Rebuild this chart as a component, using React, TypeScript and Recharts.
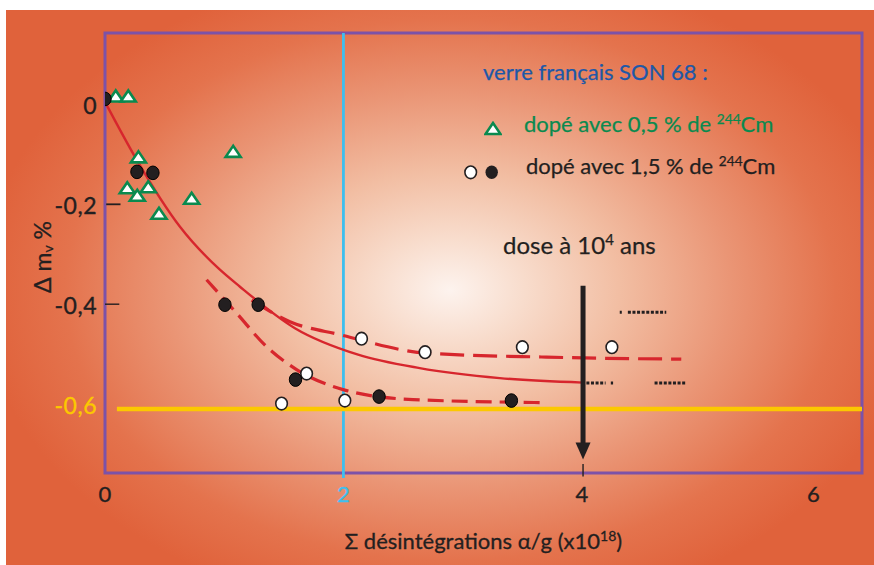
import {
  ComposedChart,
  Legend,
  Line,
  ReferenceArea,
  ReferenceLine,
  Scatter,
  XAxis,
  YAxis,
} from "recharts";

const FONT = "Lato, 'Open Sans', sans-serif";
const INK = "#231f20";
const RED = "#d7262d";
const GREEN = "#0a8a4f";
const BLUE_TXT = "#1d58a8";
const CYAN = "#3dbfee";
const YELLOW = "#fcc800";
const PURPLE = "#7c52a8";

const X_DOMAIN = [0, 6.35];
const Y_DOMAIN = [-0.738, 0.143];
const X_TICKS = [0, 2, 4, 6];
const Y_TICKS = [0, -0.2, -0.4, -0.6];
const LIMIT = -0.61;
const DOSE_1E4 = 4.01;

// glass doped with 0.5 % 244Cm (triangles)
const cm05 = [
  { x: 0.09, y: 0.014 },
  { x: 0.195, y: 0.014 },
  { x: 0.28, y: -0.108 },
  { x: 1.075, y: -0.097 },
  { x: 0.187, y: -0.17 },
  { x: 0.363, y: -0.168 },
  { x: 0.271, y: -0.185 },
  { x: 0.727, y: -0.191 },
  { x: 0.453, y: -0.221 },
];

// glass doped with 1.5 % 244Cm, black and white symbols
const cm15Black = [
  { x: 0.0, y: 0.011 },
  { x: 0.268, y: -0.135 },
  { x: 0.402, y: -0.137 },
  { x: 1.006, y: -0.401 },
  { x: 1.285, y: -0.401 },
  { x: 1.598, y: -0.551 },
  { x: 2.299, y: -0.585 },
  { x: 3.409, y: -0.593 },
];

const cm15White = [
  { x: 1.481, y: -0.599 },
  { x: 1.691, y: -0.539 },
  { x: 2.012, y: -0.593 },
  { x: 2.152, y: -0.469 },
  { x: 2.685, y: -0.496 },
  { x: 3.501, y: -0.486 },
  { x: 4.252, y: -0.486 },
];

// hand-drawn trend curves
const fitAll = [
  { x: 0, y: 0.005 },
  { x: 0.266, y: -0.111 },
  { x: 0.629, y: -0.245 },
  { x: 0.95, y: -0.328 },
  { x: 1.132, y: -0.365 },
  { x: 1.593, y: -0.448 },
  { x: 2.123, y: -0.501 },
  { x: 2.64, y: -0.528 },
  { x: 3.311, y: -0.548 },
  { x: 4.009, y: -0.557 },
];

const fitWhite = [
  { x: 1.23, y: -0.392 },
  { x: 1.551, y: -0.435 },
  { x: 1.97, y: -0.461 },
  { x: 2.697, y: -0.498 },
  { x: 3.702, y: -0.506 },
  { x: 4.4, y: -0.509 },
  { x: 4.834, y: -0.51 },
];

const fitBlack = [
  { x: 0.852, y: -0.351 },
  { x: 1.104, y: -0.418 },
  { x: 1.355, y: -0.485 },
  { x: 1.607, y: -0.531 },
  { x: 1.997, y: -0.571 },
  { x: 2.584, y: -0.591 },
  { x: 3.674, y: -0.597 },
];

// dotted extrapolations past 10^4 years
const extUpper = [
  { x: 4.318, y: -0.416 },
  { x: 4.335, y: -0.416 },
  { x: 4.36, y: null },
  { x: 4.386, y: -0.416 },
  { x: 4.708, y: -0.416 },
];

const extLower = [
  { x: 4.038, y: -0.558 },
  { x: 4.199, y: -0.558 },
  { x: 4.22, y: null },
  { x: 4.243, y: -0.558 },
  { x: 4.262, y: -0.558 },
  { x: 4.4, y: null },
  { x: 4.61, y: -0.558 },
  { x: 4.87, y: -0.558 },
];

const arrowTip = [{ x: DOSE_1E4, y: -0.711 }];

const fmt = (v: number) => String(v).replace(".", ",");

function Triangle(p: any) {
  const { cx, cy } = p;
  return (
    <polygon
      points={`${cx},${cy - 7} ${cx - 7.5},${cy + 4} ${cx + 7.5},${cy + 4}`}
      fill="#fff"
      stroke={GREEN}
      strokeWidth={2.6}
    />
  );
}

function BlackDot(p: any) {
  return <ellipse cx={p.cx} cy={p.cy} rx={6.2} ry={6.8} fill={INK} stroke="#000" strokeWidth={1} />;
}

function WhiteDot(p: any) {
  return <ellipse cx={p.cx} cy={p.cy} rx={5.8} ry={6.3} fill="#fff" stroke={INK} strokeWidth={1.6} />;
}

function ArrowHead(p: any) {
  const { cx, cy } = p;
  return <polygon points={`${cx - 7.5},${cy - 17} ${cx + 7.5},${cy - 17} ${cx},${cy}`} fill={INK} />;
}

function XTick(p: any) {
  const v = p.payload.value;
  const c = v === 2 ? CYAN : INK;
  return (
    <text
      x={p.x}
      y={p.y}
      dx={v === 6 ? -7 : 0}
      dy={21}
      textAnchor="middle"
      fontFamily={FONT}
      fontSize={22}
      fill={c}
      stroke={c}
      strokeWidth={0.35}
    >
      {fmt(v)}
    </text>
  );
}

function YTick(p: any) {
  const v = p.payload.value;
  const c = v === -0.6 ? YELLOW : INK;
  return (
    <text
      x={p.x}
      y={p.y}
      dy={10}
      textAnchor="end"
      fontFamily={FONT}
      fontSize={23}
      letterSpacing={0.5}
      fill={c}
      stroke={c}
      strokeWidth={0.35}
    >
      {fmt(v)}
    </text>
  );
}

const sup = { fontSize: "0.62em", position: "relative" as const, top: "-0.6em" };

function LegendBox() {
  const row = {
    position: "absolute" as const,
    whiteSpace: "nowrap" as const,
    lineHeight: 1,
    fontFamily: FONT,
    WebkitTextStroke: "0.25px currentColor",
  };
  return (
    <div style={{ position: "relative", width: 874, height: 565 }}>
      <div style={{ ...row, left: 483, top: 61, fontSize: 22, color: BLUE_TXT }}>
        verre français SON 68 :
      </div>
      <svg style={{ position: "absolute", left: 484, top: 121 }} width={18} height={16}>
        <polygon points="9,2 1.5,13 16.5,13" fill="#fff" stroke={GREEN} strokeWidth={2.6} />
      </svg>
      <div style={{ ...row, left: 524, top: 113, fontSize: 22, color: GREEN }}>
        dopé avec 0,5 % de <span style={sup}>244</span>Cm
      </div>
      <svg style={{ position: "absolute", left: 462, top: 164 }} width={40} height={17}>
        <ellipse cx={8.7} cy={8.3} rx={5.8} ry={6.3} fill="#fff" stroke={INK} strokeWidth={1.6} />
        <ellipse cx={29.7} cy={8.3} rx={6.2} ry={6.8} fill={INK} />
      </svg>
      <div style={{ ...row, left: 526, top: 155, fontSize: 22, color: INK }}>
        dopé avec 1,5 % de <span style={sup}>244</span>Cm
      </div>
      <div style={{ ...row, left: 503, top: 233, fontSize: 24, color: INK }}>
        dose à 10<span style={sup}>4</span> ans
      </div>
    </div>
  );
}

export default function App() {
  return (
    <div style={{ position: "absolute", left: 0, top: 0, width: 874, height: 565, background: "#fff" }}>
      <div
        style={{
          position: "absolute",
          left: 6,
          top: 10,
          right: 0,
          bottom: 0,
          background:
            "radial-gradient(ellipse 470px 330px at 444px 280px, #fdf3ee 0%, #f8dccc 16%, #f2bea3 36%, #ea9575 60%, #e4734d 82%, #e0623b 100%)",
        }}
      />
      <div style={{ position: "absolute", left: 0, top: 0 }}>
        <ComposedChart
          width={874}
          height={565}
          margin={{ top: 33, right: 12, bottom: 32, left: 25 }}
        >
          <XAxis
            type="number"
            dataKey="x"
            domain={X_DOMAIN}
            ticks={X_TICKS}
            allowDataOverflow
            axisLine={false}
            tickLine={false}
            height={60}
            tick={<XTick />}
            label={{
              content: (props: any) => {
                const vb = props.viewBox;
                return (
                  <text
                    x={vb.x + vb.width / 2}
                    y={vb.y + 76}
                    textAnchor="middle"
                    fontFamily={FONT}
                    fontSize={22}
                    fill={INK}
                    stroke={INK}
                    strokeWidth={0.3}
                  >
                    Σ désintégrations α/g (x10
                    <tspan fontSize={14} dy={-8}>18</tspan>
                    <tspan dy={8}>)</tspan>
                  </text>
                );
              },
            }}
          />
          <YAxis
            type="number"
            dataKey="y"
            domain={Y_DOMAIN}
            ticks={Y_TICKS}
            allowDataOverflow
            axisLine={false}
            tickLine={false}
            tickSize={8}
            tickMargin={0}
            width={80}
            tick={<YTick />}
            label={{
              content: (props: any) => {
                const vb = props.viewBox;
                const cx = vb.x + 17;
                const cy = vb.y + vb.height / 2 + 4;
                return (
                  <text
                    x={cx}
                    y={cy}
                    transform={`rotate(-90 ${cx} ${cy})`}
                    textAnchor="middle"
                    dominantBaseline="central"
                    fontFamily={FONT}
                    fontSize={23}
                    fill={INK}
                    stroke={INK}
                    strokeWidth={0.3}
                  >
                    Δ m
                    <tspan fontSize={14} dy={5}>v</tspan>
                    <tspan dy={-5}> %</tspan>
                  </text>
                );
              },
            }}
          />

          <ReferenceLine
            segment={[{ x: 2, y: Y_DOMAIN[1] }, { x: 2, y: -0.748 }]}
            stroke={CYAN}
            strokeWidth={2.8}
            ifOverflow="visible"
          />
          <ReferenceLine
            segment={[{ x: 0.1, y: LIMIT }, { x: X_DOMAIN[1], y: LIMIT }]}
            stroke={YELLOW}
            strokeWidth={4.5}
          />
          <ReferenceLine segment={[{ x: 0.01, y: -0.2 }, { x: 0.13, y: -0.2 }]} stroke={INK} strokeWidth={1.8} />
          <ReferenceLine segment={[{ x: 0, y: -0.4 }, { x: 0.12, y: -0.4 }]} stroke={INK} strokeWidth={1.4} />
          <ReferenceLine
            segment={[{ x: DOSE_1E4, y: -0.72 }, { x: DOSE_1E4, y: -0.745 }]}
            stroke={INK}
            strokeWidth={1.4}
            ifOverflow="visible"
          />

          <Line data={fitAll} dataKey="y" type="monotone" stroke={RED} strokeWidth={2.4} dot={false} activeDot={false} isAnimationActive={false} />
          <Line data={fitWhite} dataKey="y" type="monotone" stroke={RED} strokeWidth={3.2} strokeDasharray="24 9" dot={false} activeDot={false} isAnimationActive={false} />
          <Line data={fitBlack} dataKey="y" type="monotone" stroke={RED} strokeWidth={3.2} strokeDasharray="16 8" dot={false} activeDot={false} isAnimationActive={false} />
          <Line data={extUpper} dataKey="y" stroke={INK} strokeWidth={3} strokeDasharray="3 1.6" dot={false} activeDot={false} isAnimationActive={false} />
          <Line data={extLower} dataKey="y" stroke={INK} strokeWidth={3} strokeDasharray="3 1.6" dot={false} activeDot={false} isAnimationActive={false} />

          <ReferenceLine
            segment={[{ x: DOSE_1E4, y: -0.363 }, { x: DOSE_1E4, y: -0.682 }]}
            stroke={INK}
            strokeWidth={5}
          />
          <Scatter data={arrowTip} dataKey="y" shape={<ArrowHead />} isAnimationActive={false} />

          <Scatter data={cm05} dataKey="y" shape={<Triangle />} isAnimationActive={false} />
          <Scatter data={cm15White} dataKey="y" shape={<WhiteDot />} isAnimationActive={false} />
          <Scatter data={cm15Black} dataKey="y" shape={<BlackDot />} isAnimationActive={false} />

          <ReferenceArea
            x1={X_DOMAIN[0]}
            x2={X_DOMAIN[1]}
            y1={Y_DOMAIN[0]}
            y2={Y_DOMAIN[1]}
            fill="none"
            fillOpacity={0}
            stroke={PURPLE}
            strokeWidth={3}
            ifOverflow="visible"
          />

          <Legend
            layout="vertical"
            align="center"
            verticalAlign="middle"
            wrapperStyle={{ left: 0, top: 0, width: 874, height: 565, pointerEvents: "none" }}
            content={() => <LegendBox />}
          />
        </ComposedChart>
      </div>
    </div>
  );
}
